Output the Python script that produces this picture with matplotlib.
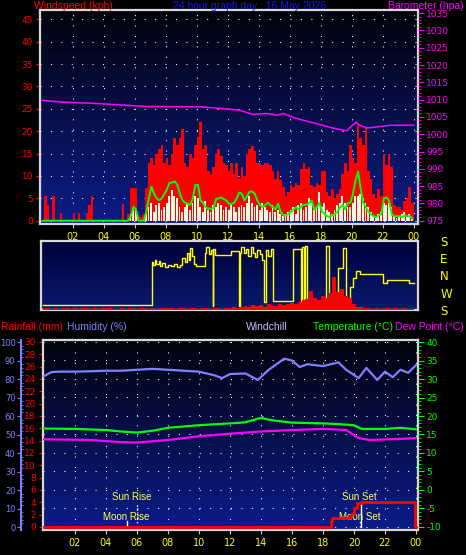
import numpy as np
import matplotlib
matplotlib.use("Agg")
import matplotlib.pyplot as plt
from matplotlib.colors import LinearSegmentedColormap
from matplotlib.ticker import MultipleLocator

plt.rcParams["axes.unicode_minus"] = False

# ---- data ----
day_title = "24 hour graph day : 16 May 2026"

# 10 minute wind values (kph), one row per hour
gust = [
    [0, 5.5, 3.5, 0, 5.5, 0],
    [0, 1.7, 0, 0, 0, 0],
    [1.7, 0, 1.7, 0, 0, 1.7],
    [3.5, 5.5, 0, 0, 0, 0],
    [0, 0, 0, 0, 0, 0],
    [0, 3.7, 0, 1.5, 7.4, 7.4],
    [7.2, 1.2, 0.8, 1.5, 7.4, 13],
    [14, 12.5, 15, 16, 17, 13],
    [14, 12.5, 15, 18.5, 17, 18.5],
    [20.4, 13, 12, 15, 14, 17],
    [18.8, 22, 16, 17, 11, 10.5],
    [12, 15, 16, 14.5, 12.8, 12.5],
    [11, 13, 10.5, 12.8, 9.5, 12],
    [10, 15, 16, 16.7, 15.5, 12.8],
    [12.8, 12.5, 13, 12.8, 12.5, 11],
    [9.3, 11, 9, 7.5, 5.5, 6.5],
    [8, 7.5, 8.5, 8, 11.5, 12.8],
    [11.5, 12, 8, 7.5, 8.5, 8],
    [11, 11, 6.5, 5.5, 7, 5],
    [6, 7, 10.5, 13, 11, 17],
    [14, 13, 21.4, 18.5, 17, 20.7],
    [11, 9.3, 6, 5, 7, 5.5],
    [15, 12.5, 15, 12, 3.5, 3],
    [3, 2.5, 4.5, 5, 7.6, 4],
]
avg_wind = [
    [0, 0, 0, 0, 0, 0],
    [0, 0, 0, 0, 0, 0],
    [0, 0, 0, 0, 0, 0],
    [0, 0, 0, 0, 0, 0],
    [0, 0, 0, 0, 0, 0],
    [0, 0, 0, 0, 1.5, 2.4],
    [2.4, 0, 0, 0, 1.5, 3],
    [4, 2, 3.5, 4, 2.5, 3],
    [4, 5.5, 6.9, 5.5, 5, 3],
    [2, 3, 4, 2.5, 4, 5.5],
    [5, 3, 2, 4.5, 2.5, 2],
    [3.5, 3, 4, 3.5, 2.5, 3],
    [2.5, 4, 3, 2, 3, 3.5],
    [3, 4, 5.5, 4, 3, 3.5],
    [2.5, 4, 3, 2.5, 2, 3.5],
    [2, 2.5, 1.5, 1, 1.5, 2],
    [2.5, 3, 1.5, 3.5, 4, 2.5],
    [3, 5, 4, 2.5, 3, 6.5],
    [3, 4, 2.5, 2, 1.5, 2.5],
    [3.5, 4, 5.5, 4, 3, 3],
    [4, 5.5, 5.5, 6, 5, 4],
    [3, 2, 1, 1, 1.5, 2],
    [4, 3.5, 4, 3, 1, 0.5],
    [1, 1.5, 2, 1, 1.5, 0.5],
]
wind_10min = [
    [0, 0, 0, 0, 0, 0],
    [0, 0, 0, 0, 0, 0],
    [0, 0, 0, 0, 0, 0],
    [0, 0, 0, 0, 0, 0],
    [0, 0, 0, 0, 0, 0],
    [0, 0, 0, 0, 1, 3.1],
    [2.5, 0, 0, 0, 2, 5],
    [7.6, 6, 5, 4.6, 5, 6],
    [7, 8.5, 8.5, 8.8, 8, 6],
    [4.6, 4, 3.8, 3.5, 5, 8],
    [8, 4.5, 4, 3, 2.7, 2.7],
    [2.8, 4.8, 5, 5.2, 4.8, 4.5],
    [3.8, 3.7, 4, 5, 6.3, 6],
    [4.5, 5.5, 6.5, 6.5, 6, 4.5],
    [3.5, 3, 3.5, 4, 3.5, 3],
    [2.5, 3.8, 2, 1.2, 1.2, 1.5],
    [2, 2.5, 3, 2.5, 3.2, 3.6],
    [3.5, 4, 4.5, 2.5, 3, 4],
    [2, 1.5, 1, 0.8, 1.2, 1.5],
    [2, 3, 3.5, 2.5, 4, 4],
    [6, 9, 11, 7, 4, 3],
    [2, 1.5, 1, 0.8, 1.2, 1.5],
    [5, 5.2, 4.5, 1.5, 1, 1],
    [1, 0.8, 1.2, 1, 1, 0.5],
]

baro_hours = [0, 1.2, 3, 5, 6.8, 8, 10.2, 12, 12.8, 13.6, 14.5, 15.2, 15.6, 16.2,
              16.9, 17.7, 18.6, 19.2, 19.7, 19.9, 20.3, 20.5, 21, 22, 22.5, 24]
baro = [1009.8, 1009.3, 1009.0, 1008.5, 1008.0, 1008.0, 1007.9, 1007.3, 1006.9, 1005.7,
        1006.0, 1005.5, 1006.0, 1004.9, 1004.0, 1003.1, 1002.0, 1001.4, 1001.0, 1002.0,
        1003.5, 1002.6, 1001.8, 1002.3, 1002.6, 1002.6]

# wind direction (deg, S=180 at top, N=0, S=-180 at bottom)
dir_hours = [0, 7.05, 7.15, 7.25, 7.35, 7.5, 7.6, 7.75, 7.9, 8.1, 8.3, 8.5, 8.7, 8.9,
             9.05, 9.2, 9.35, 9.45, 9.55, 9.65, 9.8, 9.9, 10.5, 10.6, 10.75, 10.9, 11.0,
             11.05, 11.15, 12.2, 12.7, 12.75, 12.85, 13.0, 13.15, 13.3, 13.45, 13.6,
             13.75, 13.9, 14.05, 14.2, 14.35, 14.45, 14.6, 14.75, 14.9,
             16.2, 16.7, 16.8, 16.9, 17.0, 17.1, 18.3, 18.5, 19.1, 19.4, 19.6, 19.75,
             19.9, 20.1, 20.3, 20.5, 22.0, 22.3, 23.7, 24]
wind_dir = [-155, 73, 55, 80, 60, 75, 50, 65, 45, 55, 48, 58, 45, 55,
            90, 70, 117, 80, 143, 100, 60, 47, 120, 150, 110, 135, -159,
            140, 108, 126, -159, 120, 150, 115, 140, 100, 150, 120,
            95, 135, 110, 82, -136, 135, 100, 140, -133,
            138, -160, 150, -160, 155, -166, 156, -163, 38, 143, -150, -128,
            -58, -14, 21, 7, -37, -26, -40, -40]

# lower red trace in the direction panel, 15 minute values (% of panel)
dir_panel_wind = [3, 3, 2, 3, 2, 3, 3, 2, 3, 2, 3, 3, 2, 3, 2, 3, 3, 3, 2, 2, 3, 2, 3, 3,
                  2, 3, 3, 2, 3, 2, 3, 3, 3, 3, 2, 3, 3, 2, 3, 3, 2, 3, 3, 2, 3, 3, 2, 3,
                  3, 4, 3, 5, 6, 5, 7, 6, 7, 5, 8, 6, 6, 9, 7, 8, 10, 8, 12, 14,
                  16, 28, 18, 15, 20, 17, 24, 48, 26, 30, 20, 18, 8, 5, 4, 3,
                  3, 2, 3, 2, 3, 3, 2, 3, 2, 3, 2, 2]

humid_hours = [0, 0.5, 1, 2, 3, 4, 5, 6, 7, 8, 9, 10, 11, 11.5, 12, 13, 13.8, 14.5, 15,
               15.5, 16, 16.5, 17, 18, 19, 19.5, 20.3, 20.8, 21.5, 22, 22.5, 23, 23.5, 24]
humidity = [81.6, 83.8, 84, 84, 84.2, 84.5, 84.5, 85, 85.5, 85, 84.5, 84, 82, 80.5, 82.7,
            83, 79.5, 85, 88, 91, 90, 86.5, 88, 87, 89, 85, 80.5, 86, 79.5, 84, 81, 85,
            83.4, 87.5]

temp_hours = [0, 2, 4, 5, 6, 7, 8, 10, 12, 13, 14, 14.5, 15, 16, 18, 19, 20, 20.5, 22, 23, 24]
temperature = [16.6, 16.5, 16.2, 15.8, 15.5, 16, 16.8, 17.5, 18, 18.3, 19.5, 19, 18.7,
               18.2, 18, 17.8, 17.5, 16.5, 16.5, 16.8, 16.4]
dew_hours = [0, 3, 5, 6, 8, 10, 12, 14, 16, 18, 19.5, 20.3, 21, 23, 24]
dew_point = [13.7, 13.5, 12.9, 12.8, 13.5, 14.5, 15.2, 15.8, 16.2, 16.5, 16.2, 14, 13.5,
             13.8, 14]

rain_hours = [0, 18.35, 18.5, 18.6, 19.7, 19.8, 20.0, 20.2, 20.5, 23.9, 23.95, 24]
rainfall = [0, 0, 1.0, 1.4, 1.5, 2.0, 3.0, 3.8, 4.0, 4.0, 0, 0]

sun_rise, sun_set = 6.02, 20.43
moon_rise, moon_set = 5.33, 20.4

hour_ticks = list(range(2, 25, 2))
hour_labels = ["%02d" % (h % 24) for h in hour_ticks]

# ---- drawing ----
W, H = 466, 555
fig = plt.figure(figsize=(W / 100, H / 100), dpi=100, facecolor="black")
FRAME = "#d8d8d8"
HEAD = dict(family="Liberation Sans", fontsize=7.5, va="center")


def px_axes(x0, y0, x1, y1):
    return fig.add_axes([x0 / W, 1 - y1 / H, (x1 - x0) / W, (y1 - y0) / H])


def gradient(ax, top, bottom):
    cmap = LinearSegmentedColormap.from_list("bg", [bottom, top])
    ax.imshow(np.linspace(0, 1, 256).reshape(-1, 1), aspect="auto", cmap=cmap,
              origin="lower", extent=(0, 1, 0, 1), transform=ax.transAxes, zorder=0)


def frame(ax):
    for s in ax.spines.values():
        s.set_color(FRAME)
        s.set_linewidth(1.6)


def hidden_twin(ax):
    t = ax.twinx()
    for s in t.spines.values():
        s.set_visible(False)
    return t


dots = dict(color="white", linestyle=(0, (1, 9)), linewidth=0.75)

hours_10 = np.arange(0, 24, 1 / 6)
hours_15 = np.arange(0, 24, 0.25)

# panel 1: wind + barometer
ax1 = px_axes(40, 10, 418, 224)
gradient(ax1, "#02020c", "#0c1c88")
ax1.bar(hours_10, np.ravel(gust), width=1 / 6, align="edge", color="#ff0000", zorder=2)
ax1.bar(hours_10, np.ravel(avg_wind), width=0.12, align="edge", color="#e4ffe4", zorder=3)
ax1.plot(hours_10 + 1 / 12, np.ravel(wind_10min), color="#00ff00", lw=1.4, zorder=4)
ax1.set_xlim(-0.11, 24.28)
ax1.set_ylim(-0.74, 47.1)
ax1.yaxis.set_major_locator(MultipleLocator(5))
ax1.set_xticks(hour_ticks)
ax1.set_xticklabels(hour_labels)
ax1.set_axisbelow(True)
ax1.grid(True, **dots)
frame(ax1)

ax1b = hidden_twin(ax1)
ax1.yaxis.tick_left()
ax1.tick_params(axis="y", colors="#ff0000", length=3, width=1, labelsize=6.5, pad=2)
ax1.tick_params(axis="x", colors="#c8c8c8", labelcolor="#ffff00", length=3, labelsize=7, pad=3)
ax1b.plot(baro_hours, baro, color="#ff00ff", lw=1.1, zorder=5)
ax1b.set_ylim(974.05, 1035.9)
ax1b.yaxis.set_major_locator(MultipleLocator(5))
ax1b.yaxis.set_minor_locator(MultipleLocator(1))
ax1b.tick_params(axis="y", which="both", colors="#ff00ff", labelsize=6.5, pad=2)
ax1b.tick_params(axis="y", which="major", length=4)
ax1b.tick_params(axis="y", which="minor", length=2)

fig.text(34 / W, 1 - 6 / H, "Windspeed (kph)", color="#ff0000", **HEAD)
fig.text(250 / W, 1 - 6 / H, day_title, color="#1414ff", ha="center", **HEAD)
fig.text(464 / W, 1 - 6 / H, "Barometer (hpa)", color="#ff00ff", ha="right", **HEAD)

# panel 2: wind direction
ax2 = px_axes(41, 241, 418, 310)
gradient(ax2, "#00003a", "#0a1a70")
ax2.plot(dir_hours, wind_dir, color="#ffff00", lw=1, drawstyle="steps-post", zorder=3)
ax2.set_xlim(-0.1, 24.28)
ax2.set_ylim(-180, 180)
ax2.set_xticks([])
frame(ax2)
ax2b = hidden_twin(ax2)
ax2b.bar(hours_15, dir_panel_wind, width=0.25, align="edge", color="#ff0000", zorder=2)
ax2b.set_ylim(0, 100)
ax2b.set_yticks([])
ax2.yaxis.tick_right()
ax2.set_yticks([-180, -90, 0, 90, 180])
ax2.set_yticklabels(["S", "W", "N", "E", "S"])
ax2.tick_params(axis="y", length=0, colors="#ffff00", labelsize=8.5, pad=16)

# panel 3: rain, humidity, temperature
ax3 = px_axes(42.7, 340, 418, 530)
gradient(ax3, "#02020c", "#0c1c88")
ax3.set_xlim(-0.08, 24.13)
ax3.set_ylim(-0.49, 30.32)
ax3.set_xticks(hour_ticks)
ax3.set_xticklabels(hour_labels)
for h in hour_ticks:
    ax3.axvline(h, zorder=0.5, **dots)
for t in range(-10, 45, 5):
    ax3.axhline((t + 10) * 0.6, zorder=0.5, **dots)
frame(ax3)

# sun / moon markers
ax3.plot([sun_rise, sun_rise], [0, 3.7], color="white", lw=1, ls=(0, (1, 2)), zorder=3)
ax3.plot([moon_rise, moon_rise], [0, 1.0], color="white", lw=1, zorder=3)
ax3.plot([sun_set, sun_set], [0, 4.0], color="white", lw=1, zorder=3)
ax3.plot([moon_set, moon_set], [0, 1.0], color="white", lw=1, ls=(0, (1, 2)), zorder=3)
ev = dict(family="Liberation Sans", color="#ffff60", fontsize=7, ha="center", va="center", zorder=6)
ax3.text(sun_rise - 0.35, 4.9, "Sun Rise", **ev)
ax3.text(moon_rise, 1.6, "Moon Rise", **ev)
ax3.text(sun_set - 0.1, 4.9, "Sun Set", **ev)
ax3.text(moon_set, 1.6, "Moon Set", **ev)

ax3h = hidden_twin(ax3)
ax3h.plot(humid_hours, humidity, color="#8080ff", lw=1.6, zorder=3)
ax3h.set_ylim(-1.6, 101.1)
ax3h.yaxis.tick_left()
ax3h.spines["left"].set_visible(True)
ax3h.spines["left"].set_position(("axes", (21 - 42.7) / 375.3))
ax3h.spines["left"].set_color("#8080ff")
ax3h.spines["left"].set_linewidth(1.5)
ax3h.yaxis.set_major_locator(MultipleLocator(10))
ax3h.yaxis.set_minor_locator(MultipleLocator(2))
ax3h.tick_params(axis="y", which="both", colors="#8080ff", labelsize=6, pad=1)
ax3h.tick_params(axis="y", which="major", length=3, direction="out")
ax3h.tick_params(axis="y", which="minor", length=1.5, direction="in")

ax3t = hidden_twin(ax3)
ax3.yaxis.tick_left()
ax3.yaxis.set_major_locator(MultipleLocator(2))
ax3.yaxis.set_minor_locator(MultipleLocator(1))
ax3.tick_params(axis="y", which="both", colors="#ff0000", labelsize=6.5, pad=2)
ax3.tick_params(axis="y", which="major", length=3)
ax3.tick_params(axis="y", which="minor", length=1.5)
ax3.tick_params(axis="x", colors="#c8c8c8", labelcolor="#ffff00", length=3, labelsize=7, pad=3)
ax3t.plot(temp_hours, temperature, color="#00ff00", lw=1.6, zorder=3)
ax3t.plot(dew_hours, dew_point, color="#ff00ff", lw=1.6, zorder=3)
ax3t.plot(rain_hours, np.array(rainfall) / 0.6 - 10, color="#ff0000", lw=2, drawstyle="steps-post", zorder=4)
ax3t.set_ylim(-10.9, 40.6)
ax3t.yaxis.set_major_locator(MultipleLocator(5))
ax3t.yaxis.set_minor_locator(MultipleLocator(1))
ax3t.tick_params(axis="y", which="both", colors="#00ff00", labelsize=6.5, pad=2)
ax3t.tick_params(axis="y", which="major", length=4)
ax3t.tick_params(axis="y", which="minor", length=2)

hy = 1 - 327 / H
fig.text(1 / W, hy, "Rainfall (mm)", color="#ff0000", **HEAD)
fig.text(67 / W, hy, "Humidity (%)", color="#8080ff", **HEAD)
fig.text(246 / W, hy, "Windchill", color="#c0c0ff", **HEAD)
fig.text(313 / W, hy, "Temperature (\u00b0C)", color="#00ff00", **HEAD)
fig.text(464 / W, hy, "Dew Point (\u00b0C)", color="#ff00ff", ha="right", **HEAD)

fig.savefig("out.png", dpi=100, facecolor="black")
